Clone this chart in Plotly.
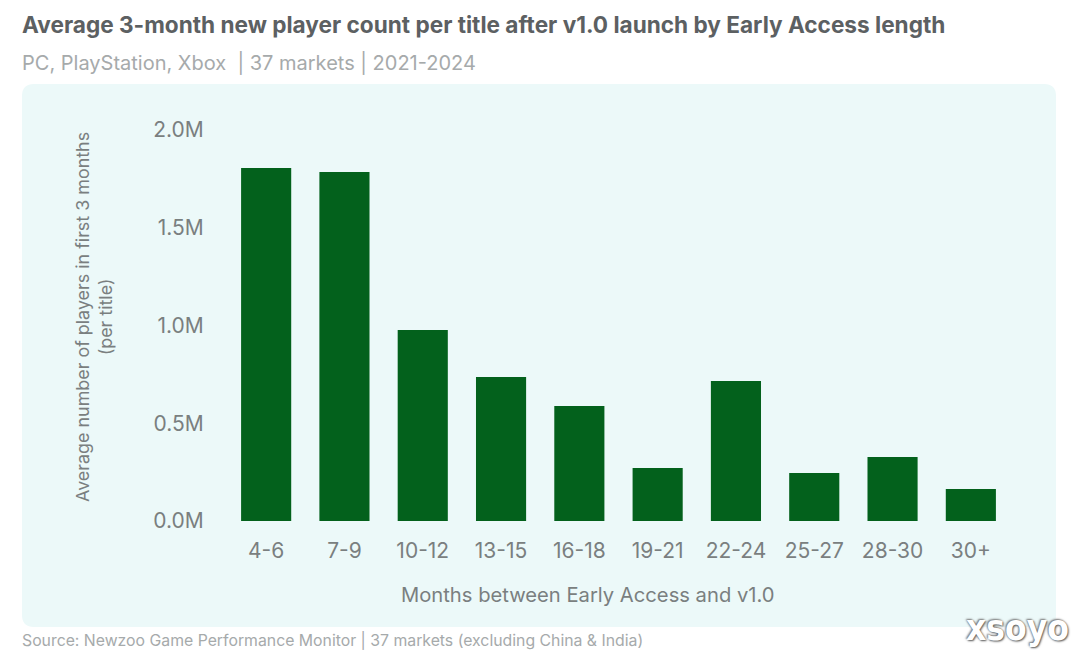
import plotly.graph_objects as go

# Values
months = ["4-6", "7-9", "10-12", "13-15", "16-18", "19-21", "22-24", "25-27", "28-30", "30+"]
players = [1806000, 1785000, 977000, 737000, 588000, 271000, 716000, 245000, 327000, 164000]
y_ticks = [0, 500000, 1000000, 1500000, 2000000]
y_labels = ["0.0M", "0.5M", "1.0M", "1.5M", "2.0M"]

FONT = "Inter"
W, H = 1080, 661
# plot area in pixels
L, R, T, B = 227, 1010, 130, 521


def px_x(x):
    return (x - L) / (R - L)


def px_y(y):
    return (B - y) / (B - T)


def label(text, x, y, size, color, xanchor="left", angle=0, weight=None, shadow=None, family=FONT):
    fig.add_annotation(text=text, x=px_x(x), y=px_y(y), xref="paper", yref="paper",
                       showarrow=False, xanchor=xanchor, yanchor="middle", textangle=angle,
                       font=dict(family=family, size=size, color=color, weight=weight, shadow=shadow))


fig = go.Figure()
fig.add_trace(go.Bar(x=months, y=players, marker_color="#03611c", marker_line_width=0, width=0.64))

# rounded panel behind the chart
x0, x1, y0, y1, r = 22, 1056, 627, 84, 12
panel = (f"M {px_x(x0+r)} {px_y(y1)} L {px_x(x1-r)} {px_y(y1)} "
         f"Q {px_x(x1)} {px_y(y1)} {px_x(x1)} {px_y(y1+r)} L {px_x(x1)} {px_y(y0-r)} "
         f"Q {px_x(x1)} {px_y(y0)} {px_x(x1-r)} {px_y(y0)} L {px_x(x0+r)} {px_y(y0)} "
         f"Q {px_x(x0)} {px_y(y0)} {px_x(x0)} {px_y(y0-r)} L {px_x(x0)} {px_y(y1+r)} "
         f"Q {px_x(x0)} {px_y(y1)} {px_x(x0+r)} {px_y(y1)} Z")
fig.add_shape(type="path", path=panel, xref="paper", yref="paper", layer="below",
              fillcolor="#ecf9f9", line_width=0)

label("Average 3-month new player count per title after v1.0 launch by Early Access length",
      20, 24, 22.6, "#5c6062", weight=700)
label("PC, PlayStation, Xbox  | 37 markets | 2021-2024", 20, 63, 20, "#a6aaab")
label("Months between Early Access and v1.0", 588, 594, 20.2, "#7a7f80", xanchor="center")
label("Average number of players in first 3 months<br>(per title)", 94, 317, 17.9, "#7a7f80",
      xanchor="center", angle=-90)
label("Source: Newzoo Game Performance Monitor | 37 markets (excluding China & India)",
      20, 640, 15.8, "#a6aaab")
label("xsoyo", 1017, 628, 35, "#ffffff", xanchor="center", weight=700,
      shadow="1px 1px 2px #555555, -1px -1px 2px #777777", family="DejaVu Sans Condensed, DejaVu Sans")

fig.update_layout(
    width=W, height=H, autosize=False,
    margin=dict(l=L, r=W - R, t=T, b=H - B),
    paper_bgcolor="#ffffff", plot_bgcolor="rgba(0,0,0,0)",
    showlegend=False, bargap=0.36,
    font=dict(family=FONT, size=21, color="#7a7f80"),
)
fig.update_xaxes(type="category", showgrid=False, showline=False, zeroline=False,
                 ticks="outside", ticklen=11, tickcolor="rgba(0,0,0,0)",
                 tickfont=dict(size=21, color="#7a7f80"))
fig.update_yaxes(range=[0, 2000000], tickvals=y_ticks, ticktext=y_labels,
                 showgrid=False, showline=False, zeroline=False,
                 ticks="outside", ticklen=18, tickcolor="rgba(0,0,0,0)",
                 tickfont=dict(size=21, color="#7a7f80"))

# the browser's default body margin would shift the whole figure
fig.write_html("out.html", config={"displayModeBar": False},
               post_script="document.body.style.margin='0';")
